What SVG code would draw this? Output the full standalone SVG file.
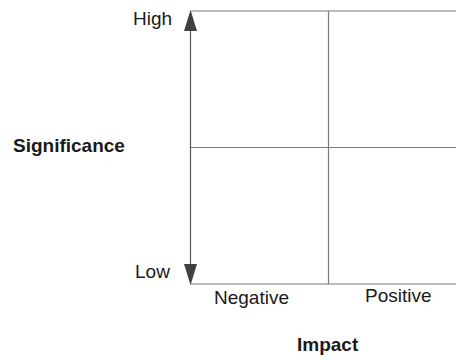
<svg xmlns="http://www.w3.org/2000/svg" width="456" height="360" viewBox="0 0 456 360">
  <style>
    .grid { stroke: #7a7a7a; stroke-width: 1.2; fill: none; }
    .axis { stroke: #555555; stroke-width: 1.2; fill: none; }
    .lbl { font-family: "Liberation Sans", Arial, sans-serif; font-size: 19px; fill: #1a1a1a; }
    .title { font-family: "Liberation Sans", Arial, sans-serif; font-size: 19px; font-weight: bold; fill: #1a1a1a; }
  </style>
  <rect width="456" height="360" fill="#ffffff"/>

  <!-- quadrant grid lines -->
  <g id="grid">
    <line class="grid" x1="190.5" y1="11" x2="456" y2="11"/>
    <line class="grid" x1="190.5" y1="147.5" x2="456" y2="147.5"/>
    <line class="grid" x1="190.5" y1="284" x2="456" y2="284"/>
    <line class="grid" x1="328.5" y1="11" x2="328.5" y2="284"/>
  </g>

  <!-- double-headed significance axis -->
  <g id="connectors">
    <line class="axis" x1="190.5" y1="28" x2="190.5" y2="266"/>
    <polygon points="190.5,10 184,31 197,31" fill="#404040"/>
    <polygon points="190.5,285 184,264 197,264" fill="#404040"/>
  </g>

  <g id="label-high"><text class="lbl" x="133" y="25">High</text></g>
  <g id="label-low"><text class="lbl" x="135" y="278">Low</text></g>
  <g id="label-significance"><text class="title" x="13" y="152">Significance</text></g>
  <g id="label-negative"><text class="lbl" x="214" y="304">Negative</text></g>
  <g id="label-positive"><text class="lbl" x="365" y="302">Positive</text></g>
  <g id="label-impact"><text class="title" x="297" y="351">Impact</text></g>
</svg>
